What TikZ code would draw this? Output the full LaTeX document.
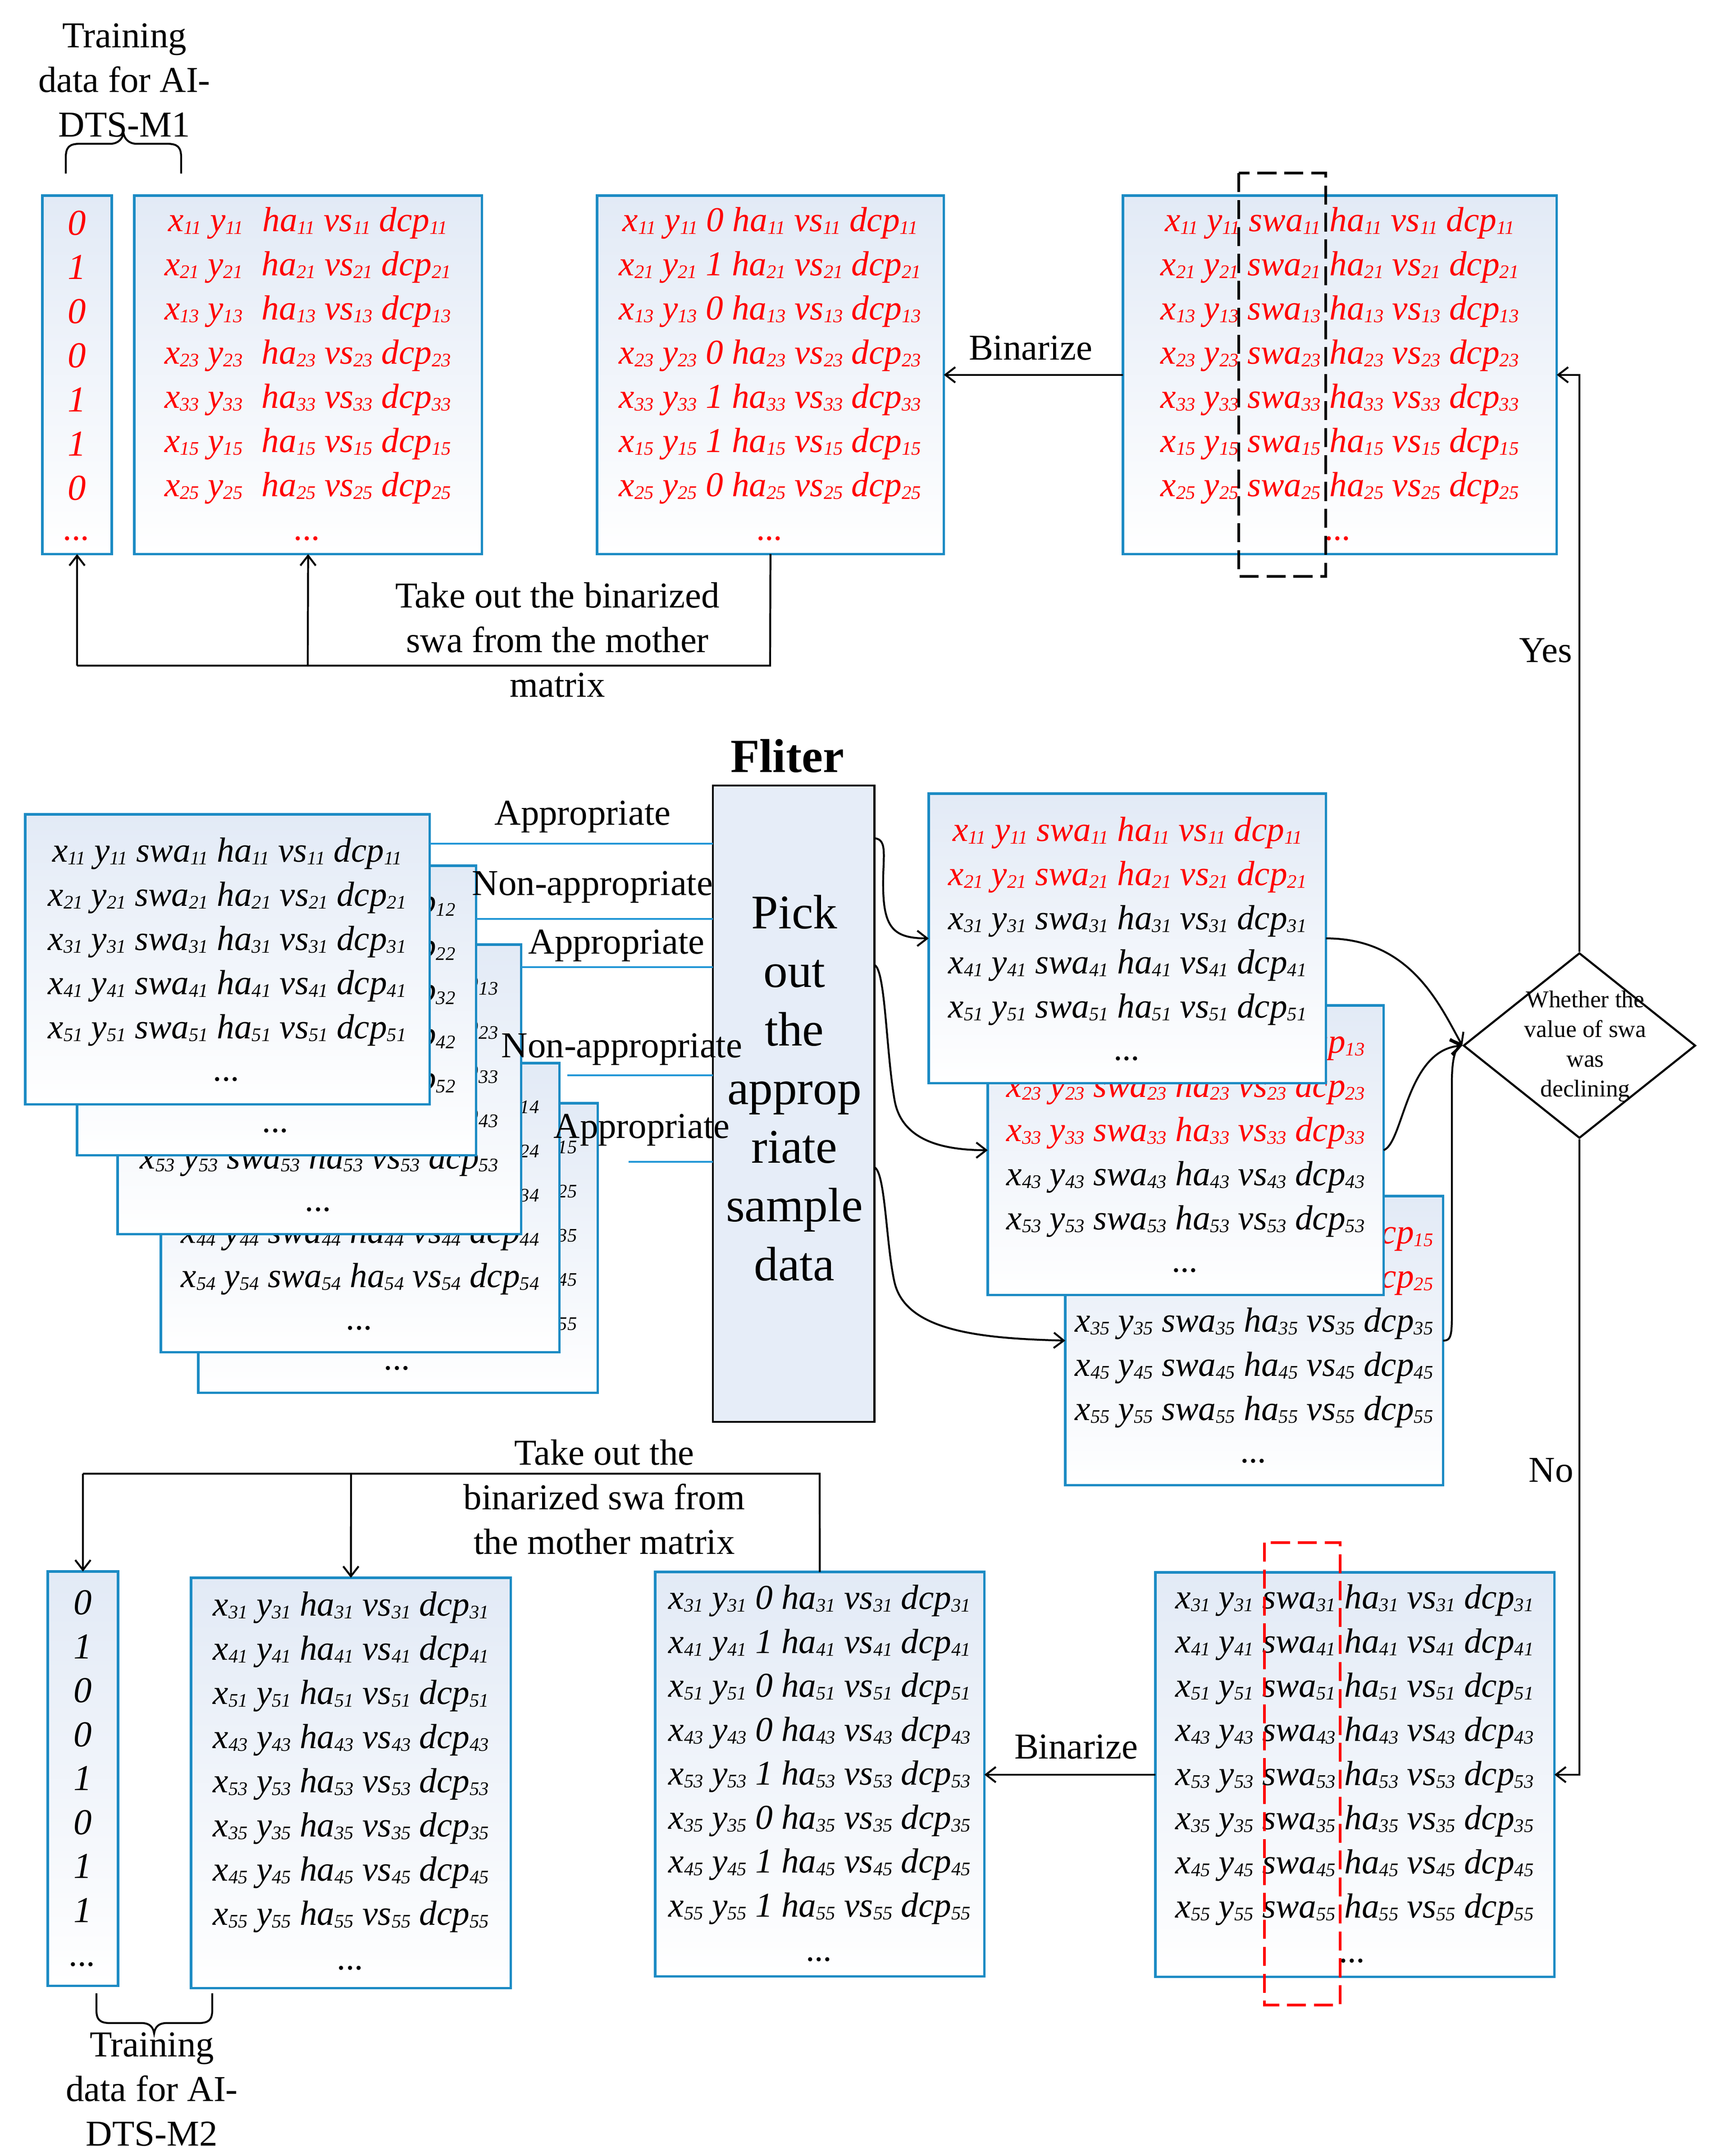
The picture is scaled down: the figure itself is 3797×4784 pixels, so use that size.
\documentclass[tikz,border=0pt]{standalone}
\usepackage{fontspec}
\setmainfont{Liberation Serif}
\usetikzlibrary{arrows.meta,shapes.geometric,calc}
\definecolor{boxblue}{RGB}{28,139,196}
\definecolor{lineblue}{RGB}{33,150,214}
\definecolor{boxtop}{RGB}{226,234,246}
\definecolor{flfill}{RGB}{230,237,248}
\definecolor{myred}{RGB}{255,0,0}
\newcommand\mtxfont{\fontsize{22}{27.9}\selectfont\itshape}
\newcommand\digfont{\fontsize{23}{28}\selectfont\itshape}
\newcommand\lblfont{\fontsize{23}{28.2}\selectfont}
\newcommand\ssub[1]{\raisebox{-0.08em}{\fontsize{12.1}{12}\selectfont #1}}
\newcommand\swarow[1]{x\ssub{#1} y\ssub{#1} swa\ssub{#1} ha\ssub{#1} vs\ssub{#1} dcp\ssub{#1}}
\newcommand\noswarow[1]{x\ssub{#1} y\ssub{#1} ha\ssub{#1} vs\ssub{#1} dcp\ssub{#1}}
\newcommand\gapnoswarow[1]{x\ssub{#1} y\ssub{#1}\hspace{0.3em} ha\ssub{#1} vs\ssub{#1} dcp\ssub{#1}}
\newcommand\binrow[2]{x\ssub{#1} y\ssub{#1} #2 ha\ssub{#1} vs\ssub{#1} dcp\ssub{#1}}
% name, x1, y1, width(cm), height(cm), centre x, rows (index/colour)
\newcommand\swabox[7]{%
  \node[mbox, minimum width=#4cm, minimum height=#5cm] (#1) at (#2,#3) {};
  \foreach \r/\c [count=\i from 0] in {#7}
    \node[rt, text=\c] (#1r\i) at (#6,{#3+87+98*\i}) {\swarow{\r}};
  \node[rt] (#1dots) at (#6,{#3+588}) {...};
}
\begin{document}
\begin{tikzpicture}[x=0.01cm,y=-0.01cm,
  mbox/.style={draw=boxblue, line width=1.5pt, top color=boxtop, bottom color=white,
    inner sep=0pt, outer sep=0pt, rectangle, anchor=north west},
  rt/.style={font=\mtxfont, inner sep=0pt, anchor=center},
  lbl/.style={font=\lblfont, align=center, inner sep=0pt},
  conn/.style={draw=black, line width=1.2pt},
  arr/.style={conn, -{Straight Barb[length=0.22cm,width=0.34cm]}},
  bline/.style={draw=lineblue, line width=1.4pt},
  dashbox/.style={line width=1.6pt, dash pattern=on 12pt off 5pt},
]
\useasboundingbox (0,0) rectangle (3797,4784);
\fill[white] (0,0) rectangle (3797,4784);

% ---------------- top row ----------------
\node[lbl] (tr1) at (276,178) {Training\\data for AI-\\DTS-M1};
\draw[conn] (146,385) -- (146,350) .. controls (146,326) and (154,319) .. (178,319)
  -- (245,319) .. controls (262,319) and (272,308) .. (274,295)
  .. controls (276,308) and (286,319) .. (303,319) -- (370,319)
  .. controls (394,319) and (402,326) .. (402,350) -- (402,385);

\node[mbox, minimum width=1.54cm, minimum height=7.95cm] (dig1) at (94,434) {};
\node[mbox, minimum width=7.71cm, minimum height=7.95cm] (box1) at (298,434) {};
\node[mbox, minimum width=7.69cm, minimum height=7.95cm] (box2) at (1325,434) {};
\node[mbox, minimum width=9.62cm, minimum height=7.95cm] (box3) at (2492,434) {};

\foreach \d [count=\i from 0] in {0,1,0,0,1,1,0}
  \node[rt, font=\digfont, text=myred] (dig1r\i) at (171,{495+98*\i}) {\d};
\node[rt, text=myred] (dig1dots) at (171,1195) {...};

\foreach \r [count=\i from 0] in {11,21,13,23,33,15,25}
  \node[rt, text=myred] (box1r\i) at (683,{495+98*\i}) {\gapnoswarow{\r}};
\node[rt, text=myred] (box1dots) at (683,1195) {...};

\foreach \r/\b [count=\i from 0] in {11/0,21/1,13/0,23/0,33/1,15/1,25/0}
  \node[rt, text=myred] (box2r\i) at (1709,{495+98*\i}) {\binrow{\r}{\b}};
\node[rt, text=myred] (box2dots) at (1709,1195) {...};

\foreach \r [count=\i from 0] in {11,21,13,23,33,15,25}
  \node[rt, text=myred] (box3r\i) at (2973,{495+98*\i}) {\swarow{\r}};
\node[rt, text=myred] (box3dots) at (2970,1195) {...};

\draw[dashbox] (2749,384) rectangle (2942,1279);

\draw[arr] (box3.west) -- (box2.east);
\node[lbl] (bin1) at (2287,772) {Binarize};

\coordinate (t1) at (1709,1477);
\coordinate (t2) at (683,1477);
\coordinate (t3) at (171,1477);
\draw[conn] (box2.south) -- (t1) -- (t3);
\draw[arr] (t3) -- (dig1.south);
\draw[arr] (t2) -- (box1.south);
\node[lbl] (take1) at (1237,1420) {Take out the binarized\\swa from the mother\\matrix};

% ---------------- diamond ----------------
\node[diamond, draw, line width=1.3pt, minimum width=5.15cm, minimum height=4.11cm,
  inner sep=0pt] (dia) at (3505,2320) {};
\node[font=\fontsize{15.2}{18.8}\selectfont, align=center, inner sep=0pt] (diatxt)
  at (3518,2322) {Whether the\\value of swa\\was\\declining};
\draw[arr] (dia.north) |- (box3.east);
\node[lbl] (yes) at (3430,1443) {Yes};

% ---------------- left stack ----------------
\swabox{L5}{440}{2448}{8.86}{6.42}{883}{15/black,25/black,35/black,45/black,55/black}
\swabox{L4}{357}{2359}{8.84}{6.41}{799}{14/black,24/black,34/black,44/black,54/black}
\swabox{L3}{261}{2096}{8.95}{6.42}{708}{13/black,23/black,33/black,43/black,53/black}
\swabox{L2}{171}{1921}{8.85}{6.42}{613}{12/black,22/black,32/black,42/black,52/black}
\swabox{L1}{56}{1807}{8.97}{6.43}{504}{11/black,21/black,31/black,41/black,51/black}

% ---------------- filter ----------------
\node[draw=black, line width=1.3pt, fill=flfill, minimum width=3.58cm, minimum height=14.11cm,
  inner sep=0pt, outer sep=0pt, anchor=north west] (fl) at (1582,1743) {};
\node[font=\fontsize{30.5}{37}\selectfont, align=center, inner sep=0pt] (fltxt)
  at (1763,2414) {Pick\\out\\the\\approp\\riate\\sample\\data};
\node[font=\bfseries\fontsize{30}{36}\selectfont, inner sep=0pt] (fltitle) at (1747,1677) {Fliter};

\coordinate (fi1) at ($(fl.north west)+(0,129)$);
\coordinate (fi2) at ($(fl.north west)+(0,296)$);
\coordinate (fi3) at ($(fl.north west)+(0,403)$);
\coordinate (fi4) at ($(fl.north west)+(0,643)$);
\coordinate (fi5) at ($(fl.north west)+(0,835)$);
\coordinate (bl4) at (1259,2386);
\coordinate (bl5) at (1395,2578);
\draw[bline] (L1.east |- fi1) -- (fi1);
\draw[bline] (L2.east |- fi2) -- (fi2);
\draw[bline] (L3.east |- fi3) -- (fi3);
\draw[bline] (bl4) -- (fi4);
\draw[bline] (bl5) -- (fi5);
\node[lbl] (ap1) at (1293,1812) {Appropriate};
\node[lbl] (nap1) at (1315,1968) {Non-appropriate};
\node[lbl] (ap2) at (1368,2098) {Appropriate};
\node[lbl] (nap2) at (1380,2328) {Non-appropriate};
\node[lbl] (ap3) at (1424,2507) {Appropriate};

% ---------------- right stack ----------------
\swabox{R3}{2364}{2654}{8.38}{6.41}{2783}{15/myred,25/myred,35/black,45/black,55/black}
\swabox{R2}{2192}{2231}{8.78}{6.42}{2631}{13/myred,23/myred,33/myred,43/black,53/black}
\swabox{R1}{2061}{1761}{8.81}{6.42}{2502}{11/myred,21/myred,31/black,41/black,51/black}

\coordinate (fo1) at ($(fl.north east)+(0,117)$);
\coordinate (fo2) at ($(fl.north east)+(0,398)$);
\coordinate (fo3) at ($(fl.north east)+(0,847)$);
\draw[arr] (fo1) .. controls (1972,1862) and (1958,1905) .. (1960,1975)
  .. controls (1962,2060) and (1985,2082) .. (R1.west);
\draw[arr] (fo2) .. controls (1965,2150) and (1966,2330) .. (1985,2440)
  .. controls (2000,2530) and (2090,2552) .. (R2.west);
\draw[arr] (fo3) .. controls (1965,2600) and (1966,2760) .. (1985,2845)
  .. controls (2010,2955) and (2180,2970) .. (R3.west);

\draw[arr] (R1.east) .. controls (3130,2082) and (3195,2230) .. (dia.west);
\draw[arr] (R2.east) .. controls (3115,2535) and (3120,2330) .. (dia.west);
\draw[arr] (R3.east) .. controls (3222,2975) and (3222,2960) .. (3222,2900) -- (3222,2400)
  .. controls (3222,2335) and (3235,2322) .. (dia.west);

% ---------------- bottom row ----------------
\node[mbox, minimum width=1.56cm, minimum height=9.19cm] (b1) at (106,3487) {};
\node[mbox, minimum width=7.09cm, minimum height=9.10cm] (b2) at (424,3501) {};
\node[mbox, minimum width=7.30cm, minimum height=8.97cm] (b3) at (1454,3488) {};
\node[mbox, minimum width=8.85cm, minimum height=8.97cm] (b4) at (2564,3489) {};

\foreach \d [count=\i from 0] in {0,1,0,0,1,0,1,1}
  \node[rt, font=\digfont] (b1r\i) at (184,{3556+97.5*\i}) {\d};
\node[rt] (b1dots) at (184,4359) {...};

\foreach \r [count=\i from 0] in {31,41,51,43,53,35,45,55}
  \node[rt] (b2r\i) at (779,{3567+98*\i}) {\noswarow{\r}};
\node[rt] (b2dots) at (779,4367) {...};

\foreach \r/\b [count=\i from 0] in {31/0,41/1,51/0,43/0,53/1,35/0,45/1,55/1}
  \node[rt] (b3r\i) at (1819,{3552+97.5*\i}) {\binrow{\r}{\b}};
\node[rt] (b3dots) at (1819,4348) {...};

\foreach \r [count=\i from 0] in {31,41,51,43,53,35,45,55}
  \node[rt] (b4r\i) at (3006,{3551+98*\i}) {\swarow{\r}};
\node[rt] (b4dots) at (3002,4351) {...};

\draw[dashbox, draw=myred] (2806,3423) rectangle (2974,4449);

\draw[arr] (dia.south) |- (b4.east);
\node[lbl] (no) at (3442,3262) {No};
\draw[arr] (b4.west) -- (b4.west -| b3.east);
\node[lbl] (bin2) at (2388,3876) {Binarize};

\coordinate (u1) at (1819,3270);
\coordinate (u2) at (779,3270);
\coordinate (u3) at (184,3270);
\draw[conn] (b3.north) -- (u1) -- (u3);
\draw[arr] (u3) -- (b1.north);
\draw[arr] (u2) -- (b2.north);
\node[lbl] (take2) at (1341,3322) {Take out the\\binarized swa from\\the mother matrix};

\draw[conn] (214,4423) -- (214,4460) .. controls (214,4482) and (222,4489) .. (245,4489)
  -- (315,4489) .. controls (332,4489) and (340,4498) .. (342,4512)
  .. controls (344,4498) and (352,4489) .. (369,4489) -- (440,4489)
  .. controls (463,4489) and (471,4482) .. (471,4460) -- (471,4423);
\node[lbl] (tr2) at (337,4636) {Training\\data for AI-\\DTS-M2};
\end{tikzpicture}
\end{document}
